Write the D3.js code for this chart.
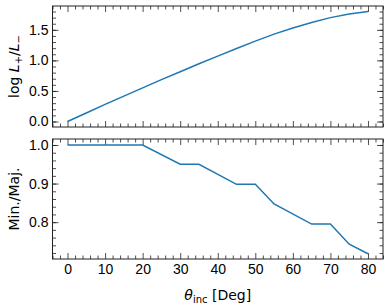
<!DOCTYPE html>
<html>
<head>
<meta charset="utf-8">
<script src="https://cdn.jsdelivr.net/npm/d3@7"></script>
<style>
body { margin: 0; background: #fff; }
svg { display: block; font-family: "DejaVu Sans", sans-serif; }
.tick text { font-size: 14px; fill: #000; }
</style>
</head>
<body>
<svg width="390" height="304"></svg>
<script>
// inclination angles (deg)
var incTop = [0, 5, 10, 15, 20, 25, 30, 35, 40, 45, 50, 55, 60, 65, 70, 75, 80];
var logRatio = [0, 0.14, 0.28, 0.415, 0.55, 0.685, 0.815, 0.945, 1.07, 1.195, 1.315, 1.43, 1.53, 1.62, 1.70, 1.76, 1.80];

var incBot = [0, 20, 30, 35, 45, 50, 55, 65, 70, 75, 80];
var minMaj = [1.0, 1.0, 0.95, 0.95, 0.898, 0.898, 0.847, 0.795, 0.795, 0.743, 0.718];

var xTicks = [0, 10, 20, 30, 40, 50, 60, 70, 80];
var topTicks = [0.0, 0.5, 1.0, 1.5];
var botTicks = [0.8, 0.9, 1.0];

var svg = d3.select("svg");
var left = 52.5, right = 383;

var x = d3.scaleLinear().domain([-4, 84]).range([left, right]);

function panel(y0, y1, yDomain, yTicks, yMinorStep, fmt, xs, ys, label) {
    var y = d3.scaleLinear().domain(yDomain).range([y1, y0]);
    var g = svg.append("g");

    var xMinor = d3.range(-4, 85, 2).filter(function(v) { return v % 10 !== 0; });
    var yMinor = d3.range(Math.ceil(yDomain[0] / yMinorStep) * yMinorStep, yDomain[1], yMinorStep);

    function ticks(axis, pos, vals, size) {
        var a = g.append("g").attr("transform", pos)
            .call(axis.tickValues(vals).tickSize(size).tickFormat(""));
        a.select(".domain").remove();
        a.selectAll("line").attr("stroke", "#222").attr("stroke-width", 0.8);
    }
    // inward ticks on all four sides
    ticks(d3.axisTop(x), "translate(0," + y1 + ")", xTicks, 6);
    ticks(d3.axisTop(x), "translate(0," + y1 + ")", xMinor, 3.5);
    ticks(d3.axisBottom(x), "translate(0," + y0 + ")", xTicks, 6);
    ticks(d3.axisBottom(x), "translate(0," + y0 + ")", xMinor, 3.5);
    ticks(d3.axisRight(y), "translate(" + left + ",0)", yTicks, 6);
    ticks(d3.axisRight(y), "translate(" + left + ",0)", yMinor, 3.5);
    ticks(d3.axisLeft(y), "translate(" + right + ",0)", yTicks, 6);
    ticks(d3.axisLeft(y), "translate(" + right + ",0)", yMinor, 3.5);

    // y tick labels
    var ya = g.append("g").attr("transform", "translate(" + left + ",0)")
        .call(d3.axisLeft(y).tickValues(yTicks).tickSize(0).tickPadding(4).tickFormat(fmt));
    ya.select(".domain").remove();

    var line = d3.line()
        .x(function(d, i) { return x(xs[i]); })
        .y(function(d) { return y(d); });
    g.append("path")
        .datum(ys)
        .attr("d", line)
        .attr("fill", "none")
        .attr("stroke", "#1f77b4")
        .attr("stroke-width", 1.5);

    g.append("rect")
        .attr("x", left).attr("y", y0)
        .attr("width", right - left).attr("height", y1 - y0)
        .attr("fill", "none").attr("stroke", "#222").attr("stroke-width", 1);

    return g;
}

var gTop = panel(6, 127, [-0.09, 1.89], topTicks, 0.1, d3.format(".1f"), incTop, logRatio);
var gBot = panel(139, 259, [0.7045, 1.0155], botTicks, 0.02, d3.format(".1f"), incBot, minMaj);

// x tick labels, bottom panel only
var xa = svg.append("g").attr("transform", "translate(0,259)")
    .call(d3.axisBottom(x).tickValues(xTicks).tickSize(0).tickPadding(5).tickFormat(d3.format("d")));
xa.select(".domain").remove();

// axis labels
var topLab = svg.append("text")
    .attr("transform", "translate(19,66.5) rotate(-90)")
    .attr("text-anchor", "middle")
    .attr("font-size", 14);
topLab.append("tspan").text("log ");
topLab.append("tspan").attr("font-style", "italic").text("L");
topLab.append("tspan").attr("font-size", 10).attr("dy", 3).text("+");
topLab.append("tspan").attr("dy", -3).text("/");
topLab.append("tspan").attr("font-style", "italic").text("L");
topLab.append("tspan").attr("font-size", 10).attr("dy", 3).text("\u2212");

svg.append("text")
    .attr("transform", "translate(19,199) rotate(-90)")
    .attr("text-anchor", "middle")
    .attr("font-size", 14)
    .text("Min./Maj.");

var xl = svg.append("text")
    .attr("x", 217.75).attr("y", 300)
    .attr("text-anchor", "middle")
    .attr("font-size", 14);
xl.append("tspan").attr("font-style", "italic").text("\u03b8");
xl.append("tspan").attr("font-size", 10).attr("dy", 3).text("inc");
xl.append("tspan").attr("dy", -3).text(" [Deg]");
</script>
</body>
</html>
